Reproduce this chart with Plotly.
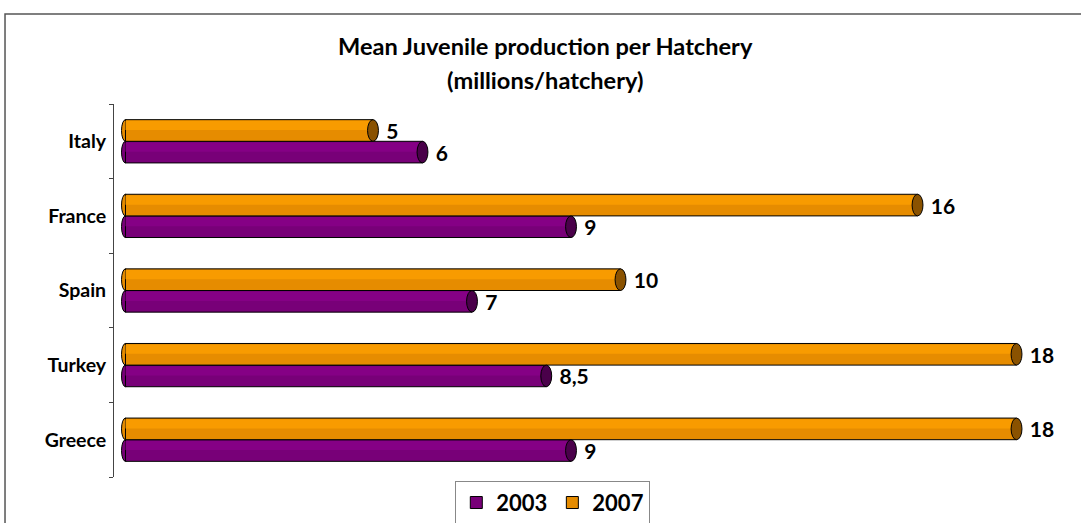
import plotly.graph_objects as go

categories = ["Greece", "Turkey", "Spain", "France", "Italy"]
years = ["2003", "2007"]
values_2003 = [9, 8.5, 7, 9, 6]
values_2007 = [18, 18, 10, 16, 5]

title_line1 = "Mean Juvenile production per Hatchery"
title_line2 = "(millions/hatchery)"

FONT = "Lato"
colors = {"2003": "#780078", "2007": "#E68C00"}
light_colors = {"2003": "#850085", "2007": "#F89B00"}
cap_colors = {"2003": "#4A004A", "2007": "#8A5200"}
series = {"2003": values_2003, "2007": values_2007}

def fmt(v):
    s = ("%g" % v).replace(".", ",")
    return "\u00a0\u00a0" + s

fig = go.Figure()
for yr in years:
    fig.add_trace(go.Bar(
        y=categories, x=series[yr], name=yr, orientation="h",
        marker=dict(color=colors[yr], line=dict(color="black", width=1)),
        text=[fmt(v) for v in series[yr]], textposition="outside",
        constraintext="none",
        textfont=dict(family=FONT, size=21, color="black", weight="bold"),
        cliponaxis=False,
    ))

bargap = 0.42
bw = (1 - bargap) / 2
offsets = {"2003": -bw / 2, "2007": bw / 2}
inset = 0.016
shapes = []
for yr in years:
    for i, v in enumerate(series[yr]):
        yc = i + offsets[yr]
        # lighter upper band (cylinder shading)
        shapes.append(dict(type="rect", xref="x", yref="y",
                           x0=0, x1=v, y0=yc + bw * 0.02, y1=yc + bw / 2 - inset,
                           fillcolor=light_colors[yr], line=dict(width=0),
                           layer="above"))
        # right end cap
        shapes.append(dict(type="circle", xref="x", yref="y",
                           x0=v - 0.11, x1=v + 0.11, y0=yc - bw / 2, y1=yc + bw / 2,
                           fillcolor=cap_colors[yr], line=dict(color="black", width=1),
                           layer="above"))
        # left rounded end
        shapes.append(dict(type="circle", xref="x", yref="y",
                           x0=-0.08, x1=0.08, y0=yc - bw / 2, y1=yc + bw / 2,
                           fillcolor=colors[yr], line=dict(color="black", width=1),
                           layer="below"))

shapes.append(dict(type="rect", xref="paper", yref="paper",
                   x0=-0.114, x1=1.05, y0=-0.2, y1=1.2413,
                   line=dict(color="#555555", width=1.5), fillcolor="rgba(0,0,0,0)",
                   layer="below"))

fig.update_layout(
    width=1081, height=523,
    margin=dict(l=114, r=11, t=104, b=46, autoexpand=False),
    paper_bgcolor="white", plot_bgcolor="white",
    barmode="group", bargap=bargap, bargroupgap=0,
    shapes=shapes,
    showlegend=True,
    legend=dict(orientation="h", x=0.459, xanchor="center", y=-0.01, yanchor="top",
                bordercolor="#888888", borderwidth=1, bgcolor="white",
                font=dict(family=FONT, size=22, color="black", weight="bold"),
                traceorder="normal", itemwidth=30),
    annotations=[
        dict(text=title_line1, xref="paper", yref="paper", x=0.451, y=1.1555,
             xanchor="center", yanchor="middle", showarrow=False,
             font=dict(family=FONT, size=23.6, color="black", weight="bold")),
        dict(text=title_line2, xref="paper", yref="paper", x=0.451, y=1.0643,
             xanchor="center", yanchor="middle", showarrow=False,
             font=dict(family=FONT, size=23.6, color="black", weight="bold")),
    ],
    font=dict(family=FONT),
)
fig.update_xaxes(range=[-0.232, 19.08], visible=False, showgrid=False, zeroline=False,
                 automargin=False)
fig.update_yaxes(type="category", categoryorder="array", categoryarray=categories,
                 range=[-0.5, 4.5], showline=True, linecolor="#444444", linewidth=1,
                 ticks="outside", ticklen=4, tickcolor="#444444", tickson="boundaries",
                 ticklabelstandoff=3,
                 showgrid=False, zeroline=False, automargin=False,
                 tickfont=dict(family=FONT, size=19.5, color="black", weight="bold"))

fig.write_html("out.html", config={"displayModeBar": False},
               post_script="document.body.style.margin='0';")
